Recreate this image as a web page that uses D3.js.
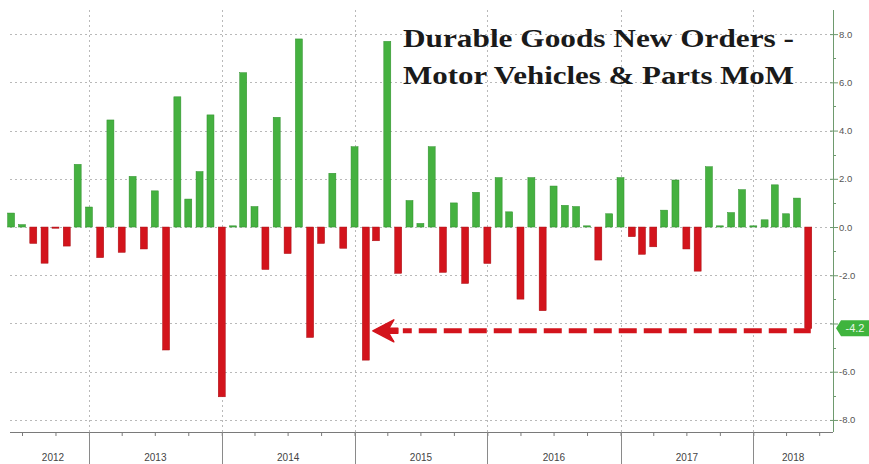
<!DOCTYPE html>
<html>
<head>
<meta charset="utf-8">
<script src="https://cdn.jsdelivr.net/npm/d3@7"></script>
<style>
  html, body { margin: 0; padding: 0; background: #fff; }
  svg { display: block; }
</style>
</head>
<body>
<svg id="chart" width="869" height="464"></svg>
<script>
// Monthly % change, durable goods new orders: motor vehicles & parts
const months = [
  "2012-05","2012-06","2012-07","2012-08","2012-09","2012-10","2012-11","2012-12",
  "2013-01","2013-02","2013-03","2013-04","2013-05","2013-06","2013-07","2013-08","2013-09","2013-10","2013-11","2013-12",
  "2014-01","2014-02","2014-03","2014-04","2014-05","2014-06","2014-07","2014-08","2014-09","2014-10","2014-11","2014-12",
  "2015-01","2015-02","2015-03","2015-04","2015-05","2015-06","2015-07","2015-08","2015-09","2015-10","2015-11","2015-12",
  "2016-01","2016-02","2016-03","2016-04","2016-05","2016-06","2016-07","2016-08","2016-09","2016-10","2016-11","2016-12",
  "2017-01","2017-02","2017-03","2017-04","2017-05","2017-06","2017-07","2017-08","2017-09","2017-10","2017-11","2017-12",
  "2018-01","2018-02","2018-03","2018-04","2018-05"
];
const momChange = [
  0.58, 0.1, -0.68, -1.5, -0.05, -0.79, 2.6, 0.83,
  -1.27, 4.44, -1.05, 2.1, -0.91, 1.5, -5.1, 5.4, 1.16, 2.3, 4.65, -7.04,
  0.05, 6.4, 0.85, -1.76, 4.55, -1.1, 7.8, -4.58, -0.68, 2.23, -0.88, 3.33,
  -5.52, -0.57, 7.7, -1.92, 1.1, 0.15, 3.33, -1.88, 1.0, -2.34, 1.44, -1.51,
  2.05, 0.63, -2.99, 2.05, -3.47, 1.7, 0.9, 0.85, 0.05, -1.37, 0.55, 2.05,
  -0.4, -1.13, -0.82, 0.7, 1.95, -0.91, -1.83, 2.5, 0.05, 0.6, 1.55, 0.05,
  0.3, 1.75, 0.55, 1.2, -4.2
];
const yTicks = [-8, -6, -4, -2, 0, 2, 4, 6, 8];
const yMinorTicks = [-7, -5, -3, -1, 1, 3, 5, 7];
const years = [2012, 2013, 2014, 2015, 2016, 2017, 2018];
const titleLines = ["Durable Goods New Orders -", "Motor Vehicles & Parts MoM"];
const latestValue = -4.2;
const compareMonth = "2015-01";

const parseMonth = d3.timeParse("%Y-%m");
// each bar sits at the end of its month
const data = months.map((m, i) => {
  const d = parseMonth(m);
  return { month: m, date: d3.timeMonth.offset(d, 1), value: momChange[i] };
});

const svg = d3.select("#chart");
const W = 869, H = 464;
const plotL = 10, plotR = 833, plotT = 10, plotB = 432;

const x = d3.scaleTime()
  .domain([new Date(2012, 4, 29), new Date(2018, 7, 8)])
  .range([plotL, plotR]);
const y = d3.scaleLinear().domain([-8.5, 9]).range([plotB, plotT]);

svg.append("rect").attr("width", W).attr("height", H).attr("fill", "#fff");

const green = "#45b140", greenEdge = "#2f8f2c";
const red = "#d3141c", redEdge = "#a80d12";
const gridColor = "#b9b9b9";

// horizontal dotted grid
svg.append("g").selectAll("line").data(yTicks).join("line")
  .attr("x1", plotL).attr("x2", plotR)
  .attr("y1", d => Math.round(y(d)) + 0.5).attr("y2", d => Math.round(y(d)) + 0.5)
  .attr("stroke", gridColor).attr("stroke-width", 1)
  .attr("stroke-dasharray", "2,3");

// vertical dotted grid at year boundaries
const yearStarts = years.slice(1).map(yr => new Date(yr, 0, 1));
svg.append("g").selectAll("line").data(yearStarts).join("line")
  .attr("x1", d => Math.round(x(d)) + 0.5).attr("x2", d => Math.round(x(d)) + 0.5)
  .attr("y1", plotT).attr("y2", plotB)
  .attr("stroke", gridColor).attr("stroke-width", 1)
  .attr("stroke-dasharray", "2,3");

// bars
const barW = 7;
svg.append("g").selectAll("rect").data(data).join("rect")
  .attr("x", d => x(d.date) - barW / 2)
  .attr("width", barW)
  .attr("y", d => y(Math.max(0, d.value)))
  .attr("height", d => Math.abs(y(d.value) - y(0)))
  .attr("fill", d => d.value >= 0 ? green : red)
  .attr("stroke", d => d.value >= 0 ? greenEdge : redEdge)
  .attr("stroke-width", 0.5);

// bottom time axis: quarterly ticks, year dividers, year labels
const xAxis = d3.axisBottom(x)
  .ticks(d3.timeMonth.every(3))
  .tickSize(4)
  .tickFormat("");
const gx = svg.append("g").attr("transform", `translate(0,${plotB})`).call(xAxis);
gx.select(".domain").attr("stroke", "#7a7a7a").attr("d", `M${plotL},0.5H${plotR}`);
gx.selectAll(".tick line").attr("stroke", "#7a7a7a");

svg.append("g").selectAll("line").data(yearStarts).join("line")
  .attr("x1", d => Math.round(x(d)) + 0.5).attr("x2", d => Math.round(x(d)) + 0.5)
  .attr("y1", plotB).attr("y2", H)
  .attr("stroke", "#8a8a8a").attr("stroke-width", 1);

svg.append("g").selectAll("text").data(years).join("text")
  .attr("x", yr => {
    const a = Math.max(x(new Date(yr, 0, 1)), plotL + 7);
    const b = Math.min(x(new Date(yr + 1, 0, 1)), plotR);
    return (a + b) / 2;
  })
  .attr("y", 461)
  .attr("text-anchor", "middle")
  .attr("font-family", "'Liberation Sans', Arial, sans-serif")
  .attr("font-size", 10)
  .attr("fill", "#444")
  .text(d => d);

// right value axis (the latest-value tag takes the place of its neighbouring label)
const axisColor = "#6e9a6e";
const fmt = v => d3.format(".1f")(v).replace("\u2212", "-");
const yAxis = d3.axisRight(y).tickValues(yTicks).tickSize(5)
  .tickFormat(v => Math.abs(v - latestValue) < 0.5 ? "" : fmt(v));
const gy = svg.append("g").attr("transform", `translate(${plotR},0)`).call(yAxis);
gy.select(".domain").attr("stroke", axisColor).attr("d", `M0.5,${plotT}V${plotB}`);
gy.selectAll(".tick line").attr("stroke", axisColor).attr("x1", -3);
gy.selectAll(".tick text")
  .attr("x", 6)
  .attr("font-family", "'Liberation Sans', Arial, sans-serif")
  .attr("font-size", 9.5)
  .attr("fill", "#555");

svg.append("g").selectAll("line").data(yMinorTicks).join("line")
  .attr("x1", plotR).attr("x2", plotR + 3)
  .attr("y1", d => Math.round(y(d)) + 0.5).attr("y2", d => Math.round(y(d)) + 0.5)
  .attr("stroke", axisColor);

// latest value tag on the axis
const tagY = y(latestValue);
svg.append("path")
  .attr("d", `M${plotR + 3},${tagY} L${plotR + 8},${tagY - 8} H${W} V${tagY + 8} H${plotR + 8} Z`)
  .attr("fill", "#3fb43d");
svg.append("text")
  .attr("x", plotR + 22).attr("y", tagY + 4)
  .attr("text-anchor", "middle")
  .attr("font-family", "'Liberation Sans', Arial, sans-serif")
  .attr("font-size", 11)
  .attr("fill", "#eaf7e8")
  .text(fmt(latestValue));

// dashed arrow from the latest bar back to the comparable drop
const last = data[data.length - 1];
const cmp = data.find(d => d.month === compareMonth);
const lastX = x(last.date);
const lineY = y(latestValue) + 2.5;
const tipX = x(cmp.date) + 7;
svg.append("path")
  .attr("d", `M${lastX},${y(latestValue) - 1} V${lineY} H${tipX + 30}`)
  .attr("fill", "none")
  .attr("stroke", red)
  .attr("stroke-width", 5)
  .attr("stroke-dasharray", "18,7");
// arrow head with a short solid shaft
svg.append("path")
  .attr("d", `M${tipX},${lineY} L${tipX + 21},${lineY - 11} L${tipX + 16},${lineY - 2.5} H${tipX + 25} V${lineY + 2.5} H${tipX + 16} L${tipX + 21},${lineY + 11} Z`)
  .attr("fill", red)
  .attr("stroke", red)
  .attr("stroke-width", 1.5)
  .attr("stroke-linejoin", "round");

// title
svg.append("g").selectAll("text").data(titleLines).join("text")
  .attr("x", 403)
  .attr("y", (d, i) => 47 + i * 37)
  .attr("font-family", "'Liberation Serif', 'Times New Roman', serif")
  .attr("font-weight", "bold")
  .attr("font-size", 25)
  .attr("fill", "#1a1a1a")
  .attr("textLength", 391)
  .attr("lengthAdjust", "spacingAndGlyphs")
  .text(d => d);
</script>
</body>
</html>
